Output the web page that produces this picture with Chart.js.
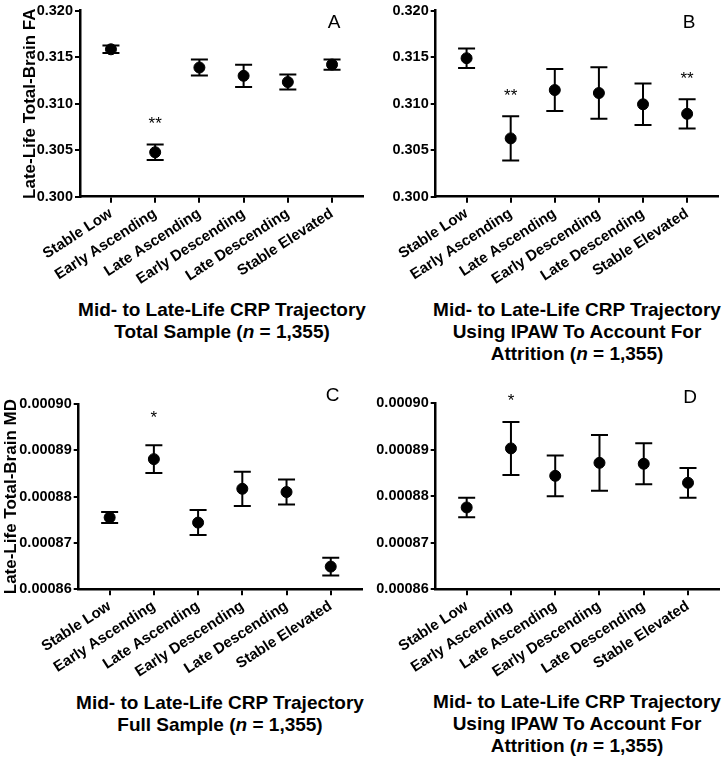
<!DOCTYPE html>
<html lang="en">
<head>
<meta charset="UTF-8">
<title>Late-Life Total-Brain FA and MD by CRP Trajectory</title>
<script src="https://cdn.jsdelivr.net/npm/chart.js"></script>
<style>
  body { margin: 0; background: #fff; font-family: "Liberation Sans", Arial, sans-serif; }
  #page { position: relative; width: 728px; height: 763px; overflow: hidden; }
  canvas { position: absolute; }
  .caption { position: absolute; width: 400px; text-align: center; font-weight: bold; font-size: 19px; line-height: 22px; white-space: nowrap; color: #000; }
</style>
</head>
<body>
<div id="page">
  <canvas id="chartA" width="364" height="298" style="left:0;top:0"></canvas>
  <canvas id="chartB" width="364" height="298" style="left:364px;top:0"></canvas>
  <canvas id="chartC" width="364" height="310" style="left:0;top:380px"></canvas>
  <canvas id="chartD" width="364" height="310" style="left:364px;top:380px"></canvas>
  <div class="caption" style="left:22px;top:299px">Mid- to Late-Life CRP Trajectory<br>Total Sample (<i>n</i> = 1,355)</div>
  <div class="caption" style="left:377px;top:299px">Mid- to Late-Life CRP Trajectory<br>Using IPAW To Account For<br>Attrition (<i>n</i> = 1,355)</div>
  <div class="caption" style="left:20px;top:692px">Mid- to Late-Life CRP Trajectory<br>Full Sample (<i>n</i> = 1,355)</div>
  <div class="caption" style="left:377px;top:691px">Mid- to Late-Life CRP Trajectory<br>Using IPAW To Account For<br>Attrition (<i>n</i> = 1,355)</div>
</div>

<script>
const categories = ['Stable Low', 'Early Ascending', 'Late Ascending', 'Early Descending', 'Late Descending', 'Stable Elevated'];
const faTicks = [0.300, 0.305, 0.310, 0.315, 0.320];
const mdTicks = [0.00086, 0.00087, 0.00088, 0.00089, 0.00090];

// A: FA, total sample
const faTotalMean = [0.31585, 0.30478, 0.31389, 0.31300, 0.31233, 0.31421];
const faTotalErr = [0.00040, 0.00084, 0.00085, 0.00120, 0.00080, 0.00055];
const faTotalStars = ['', '**', '', '', '', ''];

// B: FA, IPAW
const faIpawMean = [0.31489, 0.30627, 0.31147, 0.31115, 0.30994, 0.30891];
const faIpawErr = [0.00105, 0.00237, 0.00226, 0.00278, 0.00223, 0.00157];
const faIpawStars = ['', '**', '', '', '', '**'];

// C: MD, full sample
const mdFullMean = [0.0008755, 0.0008881, 0.0008744, 0.0008817, 0.0008810, 0.0008649];
const mdFullErr = [0.0000012, 0.0000030, 0.0000027, 0.0000037, 0.0000027, 0.0000019];
const mdFullStars = ['', '*', '', '', '', ''];

// D: MD, IPAW
const mdIpawMean = [0.0008776, 0.0008903, 0.0008844, 0.0008872, 0.0008870, 0.0008829];
const mdIpawErr = [0.0000021, 0.0000057, 0.0000044, 0.0000060, 0.0000044, 0.0000032];
const mdIpawStars = ['', '*', '', '', '', ''];

const FONT = '"Liberation Sans", Arial, sans-serif';

function makePanel(p) {
    // error bars, significance stars and panel letter
    const marks = {
        id: 'marks',
        beforeDatasetsDraw(chart) {
            const { ctx, scales: { x, y } } = chart;
            ctx.save();
            ctx.strokeStyle = '#000';
            ctx.lineWidth = 2;
            p.mean.forEach((m, i) => {
                const px = x.getPixelForValue(i);
                const top = y.getPixelForValue(m + p.err[i]);
                const bot = y.getPixelForValue(m - p.err[i]);
                ctx.beginPath();
                ctx.moveTo(px, top); ctx.lineTo(px, bot);
                ctx.moveTo(px - 8.5, top); ctx.lineTo(px + 8.5, top);
                ctx.moveTo(px - 8.5, bot); ctx.lineTo(px + 8.5, bot);
                ctx.stroke();
            });
            ctx.restore();
        },
        afterDatasetsDraw(chart) {
            const { ctx, chartArea, scales: { x, y } } = chart;
            ctx.save();
            ctx.fillStyle = '#000';
            ctx.textAlign = 'center';
            ctx.font = '17px ' + FONT;
            ctx.textBaseline = 'alphabetic';
            p.stars.forEach((s, i) => {
                if (!s) return;
                const top = y.getPixelForValue(p.mean[i] + p.err[i]);
                ctx.fillText(s, x.getPixelForValue(i), top - p.starOff);
            });
            ctx.font = '19px ' + FONT;
            ctx.textBaseline = 'middle';
            ctx.fillText(p.letter, chartArea.right + p.letterDx, chartArea.top + p.letterDy);
            ctx.restore();
        }
    };

    new Chart(document.getElementById(p.id), {
        type: 'scatter',
        data: {
            datasets: [{
                data: p.mean.map((m, i) => ({ x: i, y: m })),
                backgroundColor: '#000',
                borderColor: '#000',
                pointRadius: 5.5,
                pointHoverRadius: 5.5
            }]
        },
        options: {
            responsive: false,
            animation: false,
            events: [],
            layout: { autoPadding: false, padding: { top: p.padTop, right: p.padRight, left: 0, bottom: 0 } },
            plugins: { legend: { display: false }, tooltip: { enabled: false } },
            scales: {
                x: {
                    type: 'linear',
                    min: -0.7,
                    max: 5.7,
                    afterBuildTicks: s => { s.ticks = categories.map((c, i) => ({ value: i })); },
                    afterFit: s => { s.height = p.xHeight; s.paddingLeft = 0; s.paddingRight = 0; },
                    ticks: {
                        callback: v => categories[v],
                        color: '#000',
                        font: { family: FONT, size: 15, weight: 'bold' },
                        minRotation: 33,
                        maxRotation: 33,
                        autoSkip: false,
                        padding: 2
                    },
                    grid: { display: true, drawOnChartArea: false, drawTicks: true, tickLength: 6, color: '#000', lineWidth: 2 },
                    border: { display: true, color: '#000', width: 2.5 }
                },
                y: {
                    min: p.ticks[0],
                    max: p.ticks[p.ticks.length - 1],
                    afterBuildTicks: s => { s.ticks = p.ticks.map(v => ({ value: v })); },
                    afterFit: s => { s.width = p.yWidth; },
                    ticks: {
                        callback: v => v.toFixed(p.digits),
                        color: '#000',
                        font: { family: FONT, size: 14.5, weight: 'bold' },
                        padding: 2
                    },
                    grid: { display: true, drawOnChartArea: false, drawTicks: true, tickLength: 5, color: '#000', lineWidth: 2 },
                    border: { display: true, color: '#000', width: 2.5 },
                    title: {
                        display: !!p.yTitle,
                        text: p.yTitle,
                        color: '#000',
                        font: { family: FONT, size: 17, weight: 'bold' },
                        padding: { top: p.titlePad, bottom: 0 }
                    }
                }
            }
        },
        plugins: [marks]
    });
}

makePanel({ id: 'chartA', mean: faTotalMean, err: faTotalErr, stars: faTotalStars, ticks: faTicks, digits: 3,
    yTitle: 'Late-Life Total-Brain FA', titlePad: 20, yWidth: 80, padTop: 9.5, padRight: 1, xHeight: 101.3,
    letter: 'A', letterDx: -29, letterDy: 12, starOff: 15 });
makePanel({ id: 'chartB', mean: faIpawMean, err: faIpawErr, stars: faIpawStars, ticks: faTicks, digits: 3,
    yTitle: '', titlePad: 0, yWidth: 71.7, padTop: 9.5, padRight: 10, xHeight: 101.3,
    letter: 'B', letterDx: -29, letterDy: 12.5, starOff: 15.5 });
makePanel({ id: 'chartC', mean: mdFullMean, err: mdFullErr, stars: mdFullStars, ticks: mdTicks, digits: 5,
    yTitle: 'Late-Life Total-Brain MD', titlePad: 1, yWidth: 78.7, padTop: 24, padRight: 2.3, xHeight: 100.7,
    letter: 'C', letterDx: -29, letterDy: -8, starOff: 22 });
makePanel({ id: 'chartD', mean: mdIpawMean, err: mdIpawErr, stars: mdIpawStars, ticks: mdTicks, digits: 5,
    yTitle: '', titlePad: 0, yWidth: 71.7, padTop: 23.3, padRight: 9, xHeight: 100.7,
    letter: 'D', letterDx: -29, letterDy: -6, starOff: 16 });
</script>
</body>
</html>
